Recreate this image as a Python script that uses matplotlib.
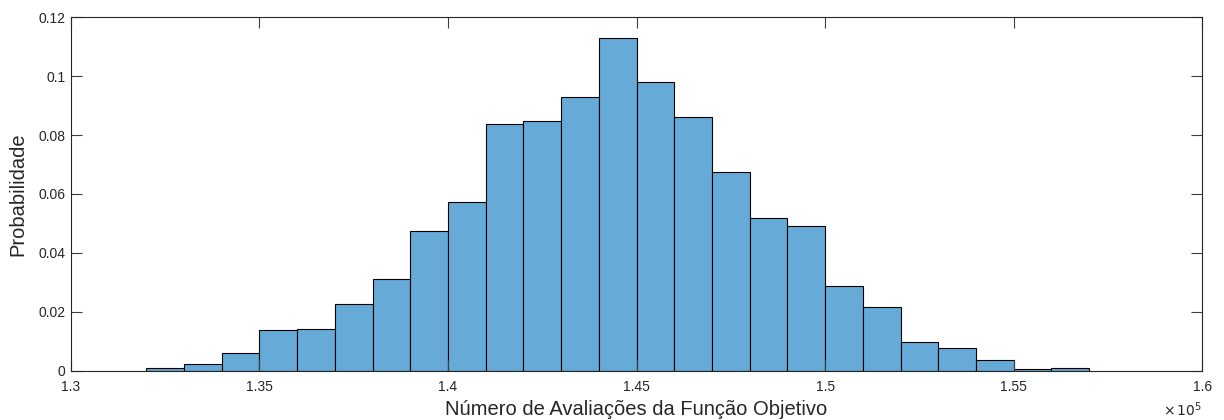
import numpy as np
import matplotlib.pyplot as plt
from matplotlib.ticker import FuncFormatter

plt.rcParams['font.family'] = ['Liberation Sans', 'DejaVu Sans']

# histogram of objective-function evaluations, bins of 1000
bin_edges = [132000, 133000, 134000, 135000, 136000, 137000, 138000, 139000,
             140000, 141000, 142000, 143000, 144000, 145000, 146000, 147000,
             148000, 149000, 150000, 151000, 152000, 153000, 154000, 155000,
             156000, 157000]
probabilities = [0.0010, 0.0022, 0.0059, 0.0139, 0.0143, 0.0226, 0.0310,
                 0.0476, 0.0572, 0.0838, 0.0848, 0.0929, 0.1130, 0.0982,
                 0.0863, 0.0676, 0.0520, 0.0492, 0.0286, 0.0216, 0.0096,
                 0.0077, 0.0036, 0.0007, 0.0010]
x_ticks = [130000, 135000, 140000, 145000, 150000, 155000, 160000]
y_ticks = [0, 0.02, 0.04, 0.06, 0.08, 0.1, 0.12]

text_color = '#262626'

fig = plt.figure(figsize=(12.24, 4.2), dpi=100)
ax = fig.add_axes([0.0578, 0.1174, 0.9245, 0.8414])

edges = np.array(bin_edges, dtype=float)
ax.bar(edges[:-1], probabilities, width=np.diff(edges), align='edge',
       color='#66aad7', edgecolor='black', linewidth=0.8)

ax.set_xlim(130000, 160000)
ax.set_ylim(0, 0.12)
ax.set_xticks(x_ticks)
ax.set_yticks(y_ticks)
ax.xaxis.set_major_formatter(FuncFormatter(lambda v, p: '%g' % (v / 1e5)))
ax.yaxis.set_major_formatter(FuncFormatter(lambda v, p: '%g' % v))

ax.tick_params(direction='in', length=8, width=0.8, colors='#404040',
               labelcolor=text_color, labelsize=10, top=True, right=True)
ax.tick_params(axis='x', pad=7)
ax.tick_params(axis='y', pad=4)
for spine in ax.spines.values():
    spine.set_color(text_color)
    spine.set_linewidth(0.8)

ax.set_xlabel('Número de Avaliações da Função Objetivo', fontsize=14.5,
              color=text_color, labelpad=4)
ax.set_ylabel('Probabilidade', fontsize=14.5, color=text_color, labelpad=8)

# exponent marker in the bottom-right corner
ax.text(1.0, -0.085, r'$\times\,10^{5}$', transform=ax.transAxes,
        ha='right', va='top', fontsize=10, color=text_color)

fig.savefig('out.png', dpi=100)
